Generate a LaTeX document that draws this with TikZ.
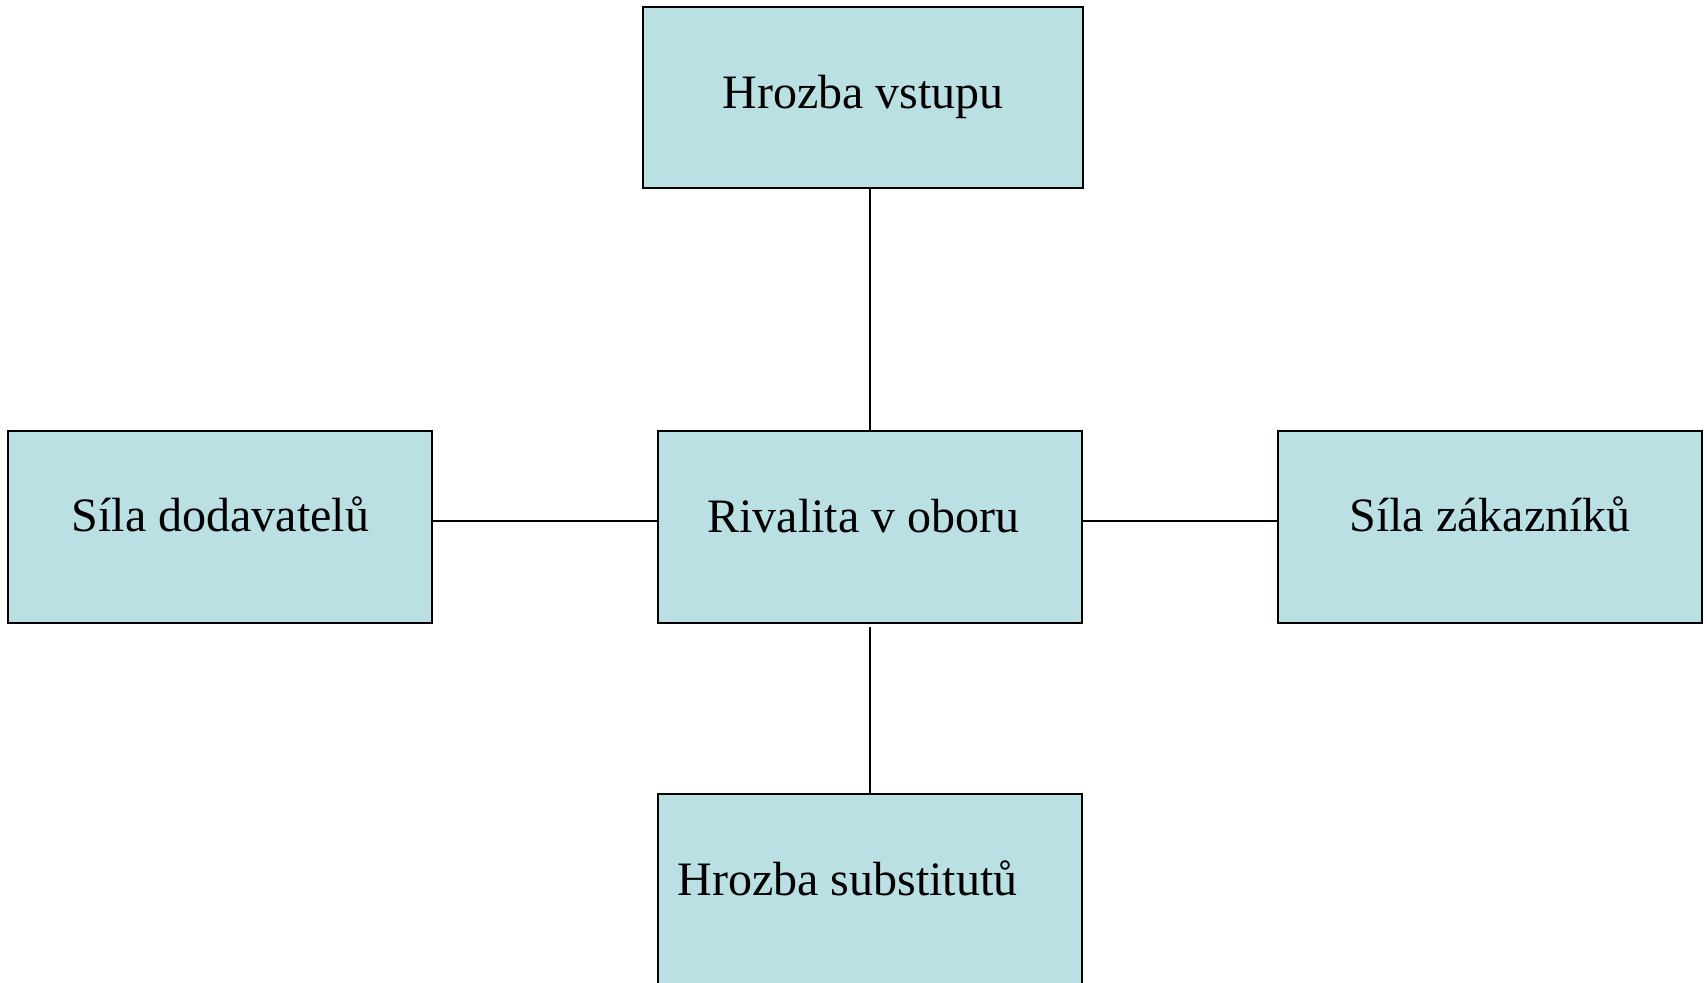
\documentclass[tikz,border=0pt]{standalone}
\usepackage{fontspec}
\setmainfont{Liberation Serif}
\usepackage{tikz}
\definecolor{forcefill}{RGB}{187,224,227}
\tikzset{
	every force/.style={
		rectangle,
		draw=black,
		fill=forcefill,
		line width=1pt,
		inner sep=0pt,
		outer sep=0pt,
		minimum width=212pt,
		minimum height=96pt
	},
	force text/.style={
		anchor=base,
		inner sep=0pt,
		font=\fontsize{24pt}{28pt}\selectfont
	},
	link/.style={
		line width=1pt
	},
}
\begin{document}
\begin{tikzpicture}[x=0.5pt, y=-0.5pt]

\useasboundingbox (0,0) rectangle (1707,983);
\clip (0,0) rectangle (1707,983);

\foreach \n/\x in {supplier/220, rival/870, customer/1490}
	\node [every force] (\n) at (\x,527) {};

\node [every force, minimum width=220pt, minimum height=90.5pt] (entry) at (863,97.5) {};
\node [every force, minimum height=103pt] (substitute) at (870,897) {};

\foreach \n/\x/\y/\t in {entry/863/109/Hrozba vstupu,
		supplier/220.5/531/Síla dodavatelů,
		rival/863.5/532/Rivalita v oboru,
		customer/1490/531/Síla zákazníků,
		substitute/847.5/895/Hrozba substitutů}
	\node [force text] (\n-text) at (\x,\y) {\t};

\draw [link] (rival.north) -- (rival.north |- entry.south);
\draw [link] ([yshift=-2pt]rival.south) -- (substitute.north);
\draw [link] ([yshift=3pt]supplier.east) -- ([yshift=3pt]rival.west);
\draw [link] ([yshift=3pt]rival.east) -- ([yshift=3pt]customer.west);

\end{tikzpicture}
\end{document}
